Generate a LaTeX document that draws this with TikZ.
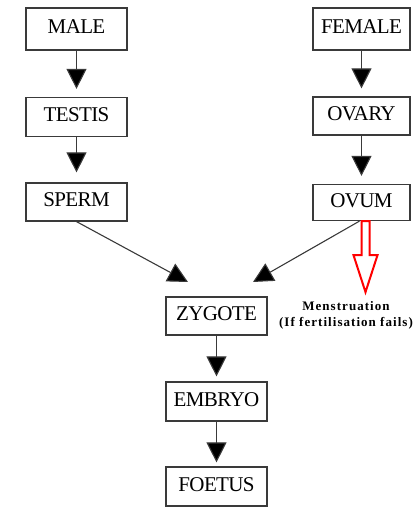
\documentclass[tikz,border=0pt]{standalone}
\usepackage{fontspec}
\setmainfont{Liberation Serif}
\newfontfamily\boxfont{Liberation Serif}[LetterSpace=-3]
\newfontfamily\notefont{Liberation Serif}[LetterSpace=8]
\usetikzlibrary{arrows.meta,positioning,calc}
\definecolor{edgegray}{HTML}{3A3A3A}

\begin{document}
\begin{tikzpicture}[x=1pt, y=-1pt,
	stagebox/.style={draw=edgegray, line width=1.2pt, minimum width=101pt, minimum height=39pt,
		inner sep=0pt, text height=15pt, text depth=6pt, font=\boxfont\fontsize{21}{23}\selectfont},
	arr/.style={draw=edgegray, line width=1.1pt, -{Triangle[width=20pt,length=20pt,fill=black]}, shorten >=8pt},
	redarr/.style={draw=red, line width=2pt, fill=white, line join=miter}]
	\useasboundingbox (0,0) rectangle (416,509);
	% left column
	\node[stagebox, minimum height=42pt] (male) at (76.5,29) {MALE};
	\node[stagebox] (testis) at (76.5,117) {TESTIS};
	\node[stagebox, minimum height=38pt] (sperm) at (76.5,202) {SPERM};
	% right column
	\node[stagebox, minimum width=97pt, minimum height=42pt] (female) at (361.5,29) {FEMALE};
	\node[stagebox, minimum width=97pt, minimum height=38pt] (ovary) at (361.5,116) {OVARY};
	\node[stagebox, minimum width=97pt, minimum height=36pt] (ovum) at (361.5,202.5) {OVUM};
	% middle
	\node[stagebox, minimum height=38pt] (zygote) at (216.5,316) {ZYGOTE};
	\node[stagebox] (embryo) at (216.5,401.5) {EMBRYO};
	\node[stagebox] (foetus) at (216.5,486.5) {FOETUS};
	\coordinate (zl) at (188,282);
	\coordinate (zr) at (253,282);
	\node[align=center, inner sep=1pt, font=\notefont\bfseries\fontsize{13}{16}\selectfont] (mens) at (346,315)
		{Menstruation\\(If fertilisation fails)};

	\draw[arr] (male) -- (testis);
	\draw[arr, shorten >=10pt] (testis) -- (sperm);
	\draw[arr] (female) -- (ovary);
	\draw[arr] (ovary) -- (ovum);
	\draw[arr, shorten >=0pt] (sperm.south) -- (zl);
	\draw[arr, shorten >=0pt] ($(ovum.south)+(-2,0)$) -- (zr);
	\draw[arr, shorten >=5pt] (zygote) -- (embryo);
	\draw[arr, shorten >=4pt] (embryo) -- (foetus);
	% hollow red arrow
	\coordinate (m) at ($(ovum.south)+(4,0)$);
	\draw[redarr] ($(m)+(-4,0)$) -- ($(m)+(4,0)$) -- ($(m)+(4,34)$) -- ($(m)+(12,34)$)
		-- ($(m)+(0,71)$) -- ($(m)+(-12,34)$) -- ($(m)+(-4,34)$) -- cycle;
\end{tikzpicture}
\end{document}
